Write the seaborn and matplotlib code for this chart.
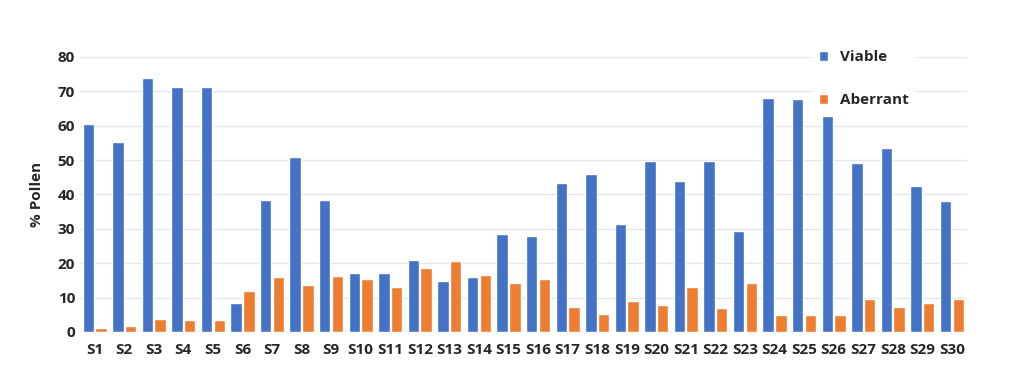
import numpy as np
import pandas as pd
import matplotlib
matplotlib.use("Agg")
import matplotlib.pyplot as plt
import seaborn as sns

# values
samples = [f"S{i}" for i in range(1, 31)]
viable = [60.5, 55.3, 73.8, 71.4, 71.4, 8.5, 38.5, 50.8, 38.3, 17.2,
          17.2, 21.0, 14.8, 16.0, 28.5, 27.8, 43.2, 45.8, 31.5, 49.6,
          43.8, 49.6, 29.5, 68.2, 67.9, 62.8, 49.1, 53.5, 42.4, 38.1]
aberrant = [1.2, 1.8, 3.7, 3.4, 3.4, 12.0, 16.0, 13.5, 16.3, 15.5,
            13.0, 18.5, 20.5, 16.5, 14.3, 15.3, 7.3, 5.1, 8.9, 7.9,
            13.2, 6.9, 14.2, 4.9, 4.9, 4.9, 9.6, 7.2, 8.4, 9.6]

df = pd.DataFrame({"Sample": samples * 2,
                   "Pollen": viable + aberrant,
                   "Type": ["Viable"] * 30 + ["Aberrant"] * 30})

sns.set_style("white")
plt.rcParams["font.family"] = ["Open Sans", "DejaVu Sans"]

fig = plt.figure(figsize=(10.24, 3.85), dpi=100)
ax = fig.add_axes([0.078, 0.138, 0.866, 0.714])

sns.barplot(data=df, x="Sample", y="Pollen", hue="Type",
            palette={"Viable": "#4472C4", "Aberrant": "#ED7D31"},
            saturation=1, width=0.86, gap=0.1, ax=ax, zorder=3)

ax.set_ylim(0, 80)
ax.set_xlim(-0.5, 29.5)
ax.set_yticks(np.arange(0, 81, 10))
ax.yaxis.grid(True, color="#e6e6e6", linewidth=1, zorder=0)
for s in ax.spines.values():
    s.set_visible(False)
ax.axhline(0, color="#d9d9d9", linewidth=1, zorder=2)
ax.tick_params(axis="both", length=0, labelsize=11, colors="#262626")
ax.tick_params(axis="x", pad=8)
for lbl in ax.get_xticklabels() + ax.get_yticklabels():
    lbl.set_fontweight("bold")
ax.set_xlabel("")
ax.set_ylabel("% Pollen", fontsize=11, fontweight="bold", color="#262626", labelpad=10)

leg = ax.legend(loc="upper left", bbox_to_anchor=(0.818, 1.075), frameon=True,
                handlelength=0.6, handleheight=0.6, labelspacing=1.9,
                handletextpad=0.8, borderpad=0.4, prop={"weight": "bold", "size": 11})
leg.get_frame().set_facecolor("white")
leg.get_frame().set_edgecolor("none")
leg.get_frame().set_alpha(1)
for t in leg.get_texts():
    t.set_color("#262626")

fig.savefig("out.png", dpi=100)
